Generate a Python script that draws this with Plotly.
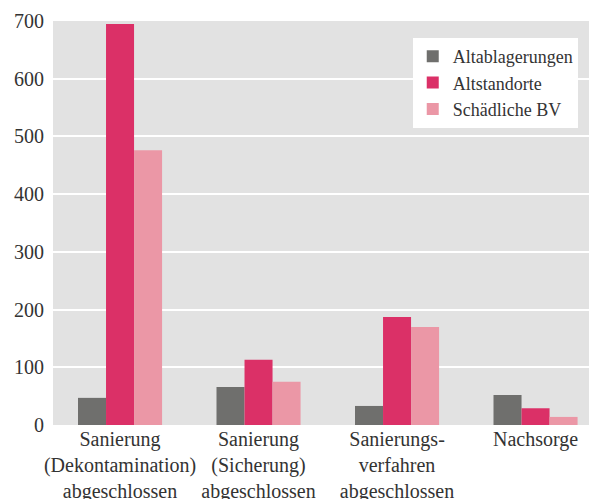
import plotly.graph_objects as go

categories = [
    "Sanierung<br>(Dekontamination)<br>abgeschlossen",
    "Sanierung<br>(Sicherung)<br>abgeschlossen",
    "Sanierungs-<br>verfahren<br>abgeschlossen",
    "Nachsorge",
]
altablagerungen = [47, 66, 33, 52]
altstandorte = [695, 113, 187, 29]
schaedliche_bv = [476, 75, 170, 14]

series = [
    ("Altablagerungen", altablagerungen, "#6f6f6d"),
    ("Altstandorte", altstandorte, "#db3067"),
    ("Schädliche BV", schaedliche_bv, "#eb97a6"),
]

fig = go.Figure()
for name, values, color in series:
    fig.add_trace(go.Bar(x=categories, y=values, name=name,
                         marker=dict(color=color, line=dict(width=0))))

fig.update_layout(
    width=589, height=499,
    margin=dict(l=53, r=0, t=21, b=74),
    barmode="group", bargap=0.393, bargroupgap=0,
    paper_bgcolor="white", plot_bgcolor="#e2e2e2",
    font=dict(family="Liberation Serif", size=20, color="#333333"),
    xaxis=dict(range=[-0.484, 3.386], showgrid=False, ticks="",
               automargin=False, tickfont=dict(size=20)),
    yaxis=dict(range=[0, 700], dtick=100, showgrid=True, gridcolor="white",
               gridwidth=2, zeroline=False, ticks="", ticklabelstandoff=8,
               automargin=False, tickfont=dict(size=20)),
    legend=dict(x=0.979, xanchor="right", y=0.958, yanchor="top",
                bgcolor="white", borderwidth=0, font=dict(size=18),
                traceorder="normal"),
    showlegend=True,
)

# drop the default body margin so the figure sits at the window's corner
fig.write_html("out.html",
               config={"displayModeBar": False},
               post_script="document.body.style.margin='0';"
                           "document.body.style.overflow='hidden';")
